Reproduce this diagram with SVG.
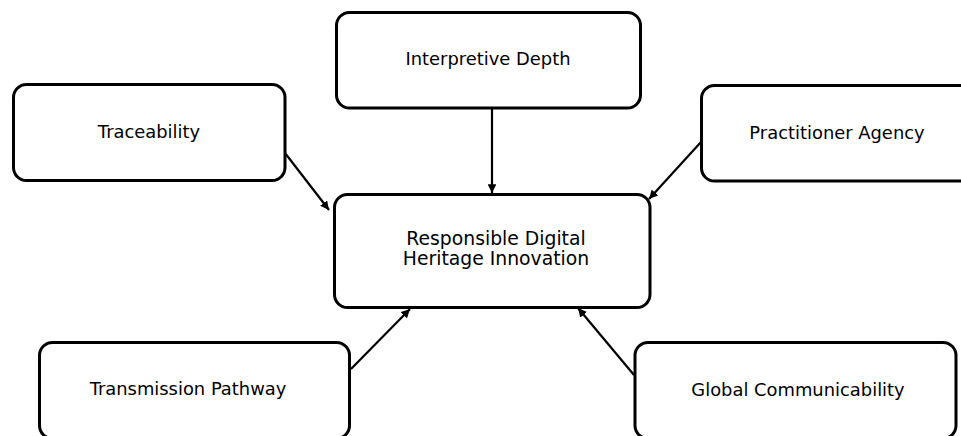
<svg xmlns="http://www.w3.org/2000/svg" width="961" height="436" viewBox="0 0 961 436">
  <style>
    .box { fill: #ffffff; stroke: #000000; stroke-width: 3; }
    .label { font-family: "DejaVu Sans", "Liberation Sans", sans-serif; font-size: 17.9px; fill: #000000; text-anchor: middle; }
    .label.core { font-size: 18.8px; }
    .edge { stroke: #000000; stroke-width: 2.2; fill: none; marker-end: url(#head); }
  </style>
  <defs>
    <marker id="head" viewBox="0 0 10 10" refX="10" refY="5" markerWidth="4" markerHeight="4" orient="auto" markerUnits="strokeWidth">
      <path d="M0,0 L10,5 L0,10 Z" fill="#000000"/>
    </marker>
  </defs>
  <rect width="961" height="436" fill="#ffffff"/>

  <g id="connectors">
    <line class="edge" x1="285" y1="153" x2="329" y2="210"/>
    <line class="edge" x1="492" y1="108" x2="492" y2="193"/>
    <line class="edge" x1="701" y1="142" x2="649" y2="199"/>
    <line class="edge" x1="351" y1="369" x2="410" y2="309"/>
    <line class="edge" x1="634" y1="375" x2="578" y2="308"/>
  </g>

  <g id="node-interpretive-depth">
    <rect class="box" x="336.5" y="12.5" width="304" height="95.5" rx="13"/>
    <text class="label" x="488" y="65">Interpretive Depth</text>
  </g>

  <g id="node-traceability">
    <rect class="box" x="13.5" y="84.5" width="271.5" height="96" rx="13"/>
    <text class="label" x="149" y="137.5">Traceability</text>
  </g>

  <g id="node-practitioner-agency">
    <rect class="box" x="701.5" y="85.5" width="290" height="95.5" rx="13"/>
    <text class="label" x="837" y="138.5">Practitioner Agency</text>
  </g>

  <g id="node-responsible-digital-heritage-innovation">
    <rect class="box" x="334.5" y="194.5" width="315.5" height="113" rx="13"/>
    <text class="label core" x="496" y="244.5">Responsible Digital</text>
    <text class="label core" x="496" y="265">Heritage Innovation</text>
  </g>

  <g id="node-transmission-pathway">
    <rect class="box" x="39.5" y="342.5" width="310" height="96" rx="13"/>
    <text class="label" x="188" y="395">Transmission Pathway</text>
  </g>

  <g id="node-global-communicability">
    <rect class="box" x="635" y="342.5" width="321" height="96" rx="13"/>
    <text class="label" x="798" y="395.5">Global Communicability</text>
  </g>
</svg>
